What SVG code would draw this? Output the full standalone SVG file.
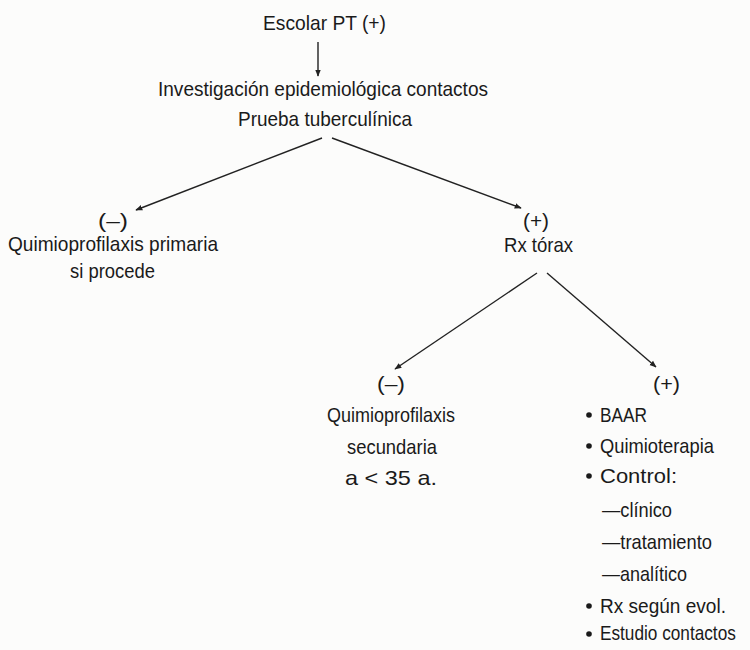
<svg xmlns="http://www.w3.org/2000/svg" width="750" height="650" viewBox="0 0 750 650">
<defs>
<style>
text{font-family:"Liberation Sans Narrow","Liberation Sans",Arial,sans-serif;font-size:21px;fill:#1a1a1a}
.c{stroke:#222;stroke-width:1.4;fill:none;marker-end:url(#ah)}
.b{fill:#1a1a1a}
</style>
<marker id="ah" viewBox="0 0 10 10" refX="9" refY="5" markerWidth="7" markerHeight="7" orient="auto" markerUnits="userSpaceOnUse">
<path d="M0,1 L10,5 L0,9 Z" fill="#222"/>
</marker>
</defs>
<rect width="750" height="650" fill="#fcfcfb"/>
<g id="connectors">
<line class="c" x1="318" y1="42" x2="318" y2="76"/>
<line class="c" x1="322" y1="138" x2="136" y2="210"/>
<line class="c" x1="332" y1="138" x2="521" y2="208"/>
<line class="c" x1="537" y1="273" x2="395" y2="369"/>
<line class="c" x1="547" y1="273" x2="656" y2="367"/>
</g>
<g id="n-escolar"><text x="263" y="30" textLength="123" lengthAdjust="spacingAndGlyphs">Escolar PT (+)</text></g>
<g id="n-investigacion">
<text x="158" y="96" textLength="330" lengthAdjust="spacingAndGlyphs">Investigación epidemiológica contactos</text>
<text x="238" y="126" textLength="174" lengthAdjust="spacingAndGlyphs">Prueba tuberculínica</text>
</g>
<g id="n-neg1">
<text x="98" y="228" textLength="30" lengthAdjust="spacingAndGlyphs">(–)</text>
<text x="8" y="251" textLength="210" lengthAdjust="spacingAndGlyphs">Quimioprofilaxis primaria</text>
<text x="70" y="278" textLength="85" lengthAdjust="spacingAndGlyphs">si procede</text>
</g>
<g id="n-pos1">
<text x="523" y="228" textLength="26" lengthAdjust="spacingAndGlyphs">(+)</text>
<text x="504" y="252" textLength="69" lengthAdjust="spacingAndGlyphs">Rx tórax</text>
</g>
<g id="n-neg2">
<text x="377" y="391" textLength="28" lengthAdjust="spacingAndGlyphs">(–)</text>
<text x="327" y="422" textLength="128" lengthAdjust="spacingAndGlyphs">Quimioprofilaxis</text>
<text x="347" y="454" textLength="90" lengthAdjust="spacingAndGlyphs">secundaria</text>
<text x="345" y="485" textLength="92" lengthAdjust="spacingAndGlyphs">a &lt; 35 a.</text>
</g>
<g id="n-pos2">
<text x="653" y="391" textLength="27" lengthAdjust="spacingAndGlyphs">(+)</text>
<circle class="b" cx="589" cy="415" r="2.8"/>
<text x="600" y="422" textLength="47" lengthAdjust="spacingAndGlyphs">BAAR</text>
<circle class="b" cx="589" cy="446" r="2.8"/>
<text x="600" y="453" textLength="114" lengthAdjust="spacingAndGlyphs">Quimioterapia</text>
<circle class="b" cx="589" cy="476" r="2.8"/>
<text x="600" y="483" textLength="77" lengthAdjust="spacingAndGlyphs">Control:</text>
<text x="602" y="517" textLength="70" lengthAdjust="spacingAndGlyphs">—clínico</text>
<text x="602" y="549" textLength="110" lengthAdjust="spacingAndGlyphs">—tratamiento</text>
<text x="602" y="581" textLength="85" lengthAdjust="spacingAndGlyphs">—analítico</text>
<circle class="b" cx="589" cy="606" r="2.8"/>
<text x="600" y="613" textLength="126" lengthAdjust="spacingAndGlyphs">Rx según evol.</text>
<circle class="b" cx="589" cy="634" r="2.8"/>
<text transform="translate(600,640) scale(0.82,1)" x="0" y="0">Estudio contactos</text>
</g>
</svg>
